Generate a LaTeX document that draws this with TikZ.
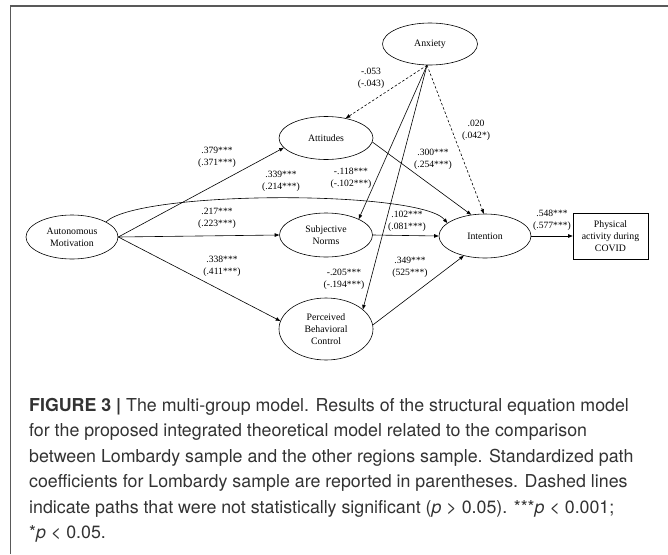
\documentclass[tikz,border=0pt]{standalone}
\usepackage{fontspec}
\setmainfont{Liberation Serif}
\newfontfamily\capfont{TeX Gyre Heros}
\usetikzlibrary{shapes.geometric,arrows.meta}
\begin{document}
\begin{tikzpicture}[x=1pt,y=-1pt,
  var/.style={draw,ellipse,inner sep=0pt,align=center,font=\fontsize{9.8}{12}\selectfont,line width=0.6pt},
  lbl/.style={align=center,font=\fontsize{9.6}{12}\selectfont,inner sep=0pt},
  pth/.style={line width=0.6pt,-{Triangle[length=4.5pt,width=3.5pt]}},
  ns/.style={pth,dash pattern=on 2.5pt off 2pt},
  captxt/.style={anchor=base west,inner sep=0pt,font=\capfont\fontsize{17.8}{25}\selectfont,text=black!80}
]
\useasboundingbox (0,0) rectangle (668,554);
\fill[white] (0,0) rectangle (668,554);
\draw[black!65,line width=1.4pt] (10.5,554) -- (10.5,6) -- (668,6);

\node[var,minimum width=95pt,minimum height=42pt] (anx) at (430,44) {Anxiety};
\node[var,minimum width=94pt,minimum height=43pt] (att) at (326,138) {Attitudes};
\node[var,minimum width=92pt,minimum height=44pt] (am) at (72,237) {Autonomous\\Motivation};
\node[var,minimum width=93pt,minimum height=44pt] (sn) at (326,235) {Subjective\\Norms};
\node[var,minimum width=92pt,minimum height=44pt] (int) at (485,236) {Intention};
\node[var,minimum width=94pt,minimum height=62pt] (pbc) at (326,329) {Perceived\\Behavioral\\Control};
\node[draw,rectangle,minimum width=75pt,minimum height=46pt,inner sep=0pt,align=center,line width=0.6pt,font=\fontsize{9.8}{12}\selectfont] (pa) at (610.5,236) {Physical\\activity during\\COVID};

\draw[pth] (am.east) -- (att.193);
\draw[pth] (am.24) .. controls (140,190) and (420,190) .. (int.161);
\draw[pth] (am.east) -- (sn.west);
\draw[pth] (am.east) -- (pbc.170);
\draw[pth] (att.-5) -- (int.123);
\draw[pth] (sn.east) -- (int.west);
\draw[pth] (pbc.5) -- (int.223);
\draw[pth] (int.east) -- (pa.west);
\draw[ns] (anx.262) -- (att.45);
\draw[ns] (anx.262) -- (int.93);
\draw[pth] (anx.262) -- (sn.26);
\draw[pth] (anx.262) -- (pbc.28);

\node[lbl] (l1) at (371,78) {-.053\\(-.043)};
\node[lbl] (l2) at (476,130) {.020\\(.042*)};
\node[lbl] (l3) at (217,157) {.379***\\(.371***)};
\node[lbl] (l4) at (281,181) {.339***\\(.214***)};
\node[lbl] (l5) at (351,178) {-.118***\\(-.102***)};
\node[lbl] (l6) at (433,159) {.300***\\(.254***)};
\node[lbl] (l7) at (217,218) {.217***\\(.223***)};
\node[lbl] (l8) at (407,221) {.102***\\(.081***)};
\node[lbl] (l9) at (552,220) {.548***\\(.577***)};
\node[lbl] (l10) at (222,266) {.338***\\(.411***)};
\node[lbl] (l11) at (344,279) {-.205***\\(-.194***)};
\node[lbl] (l12) at (410,267) {.349***\\(525***)};

\node[captxt] (c1) at (29,411) {\textbf{FIGURE 3 |} The multi-group model. Results of the structural equation model};
\node[captxt] (c2) at (29,436.5) {for the proposed integrated theoretical model related to the comparison};
\node[captxt] (c3) at (29,462) {between Lombardy sample and the other regions sample. Standardized path};
\node[captxt] (c4) at (29,487.5) {coefficients for Lombardy sample are reported in parentheses. Dashed lines};
\node[captxt] (c5) at (29,513) {indicate paths that were not statistically significant ({\itshape p} > 0.05). ***{\itshape p} < 0.001;};
\node[captxt] (c6) at (29,538.5) {*{\itshape p} < 0.05.};
\end{tikzpicture}
\end{document}
